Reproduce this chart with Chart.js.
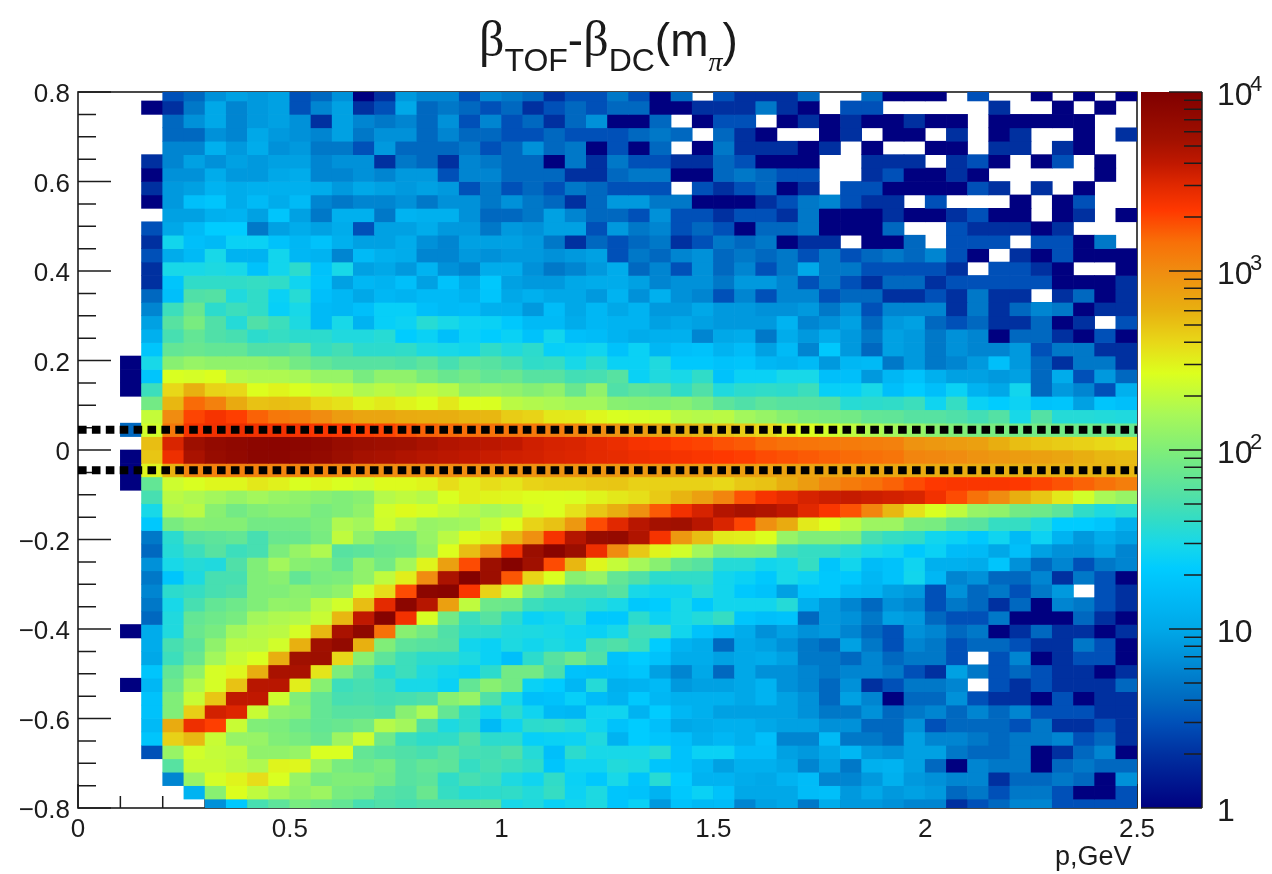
<!DOCTYPE html>
<html><head><meta charset="utf-8">
<script src="https://cdn.jsdelivr.net/npm/chart.js@4/dist/chart.umd.min.js"></script>
<style>
html,body{margin:0;padding:0;background:#fff;width:1272px;height:874px;overflow:hidden}
canvas{position:absolute;top:0}
#title{position:absolute;left:479px;top:9px;white-space:nowrap;font-family:"Liberation Sans",sans-serif;font-size:46px;color:#1a1a1a;line-height:60px}
#title .g{font-family:"Liberation Serif",serif;font-size:50px}
#title sub{font-size:32px;vertical-align:baseline;position:relative;top:15px}
#title sub i{font-family:"Liberation Serif",serif;font-size:28px}
</style></head><body>
<canvas id="main" width="1272" height="874" style="left:0"></canvas>
<canvas id="bar" width="131" height="874" style="left:1141px"></canvas>
<div id="title"><span class="g">β</span><sub>TOF</sub>-<span class="g">β</span><sub>DC</sub>(m<sub><i>π</i></sub>)</div>
<script>
const _=null;
// counts per cell, rows from the top of the plot (beta difference 0.81 downward), columns p = 0 .. 2.5
const r00=[_,_,_,_,3,4,7,9,8,9,3,4,7,1,2,8,6,6,3,6,5,4,2,3,3,5,3,1,4,_,3,2,2,2,4,_,_,4,1,1,1,_,3,_,_,1,_,1,_,1];
const r01=[_,_,_,1,2,5,10,6,8,9,3,6,9,2,3,10,4,5,4,3,4,2,3,4,3,4,4,1,1,2,2,2,5,2,1,_,3,3,_,_,_,_,_,2,_,_,1,_,1,_];
const r02=[_,_,_,_,4,7,10,6,8,9,7,2,9,6,5,6,4,7,3,6,3,4,2,4,7,1,1,4,_,1,3,3,_,1,2,1,2,1,1,2,1,1,_,1,1,1,1,1,_,_];
const r03=[_,_,_,_,4,4,7,6,10,8,7,6,9,5,7,7,4,6,4,4,3,3,4,3,3,3,4,5,4,_,4,2,1,_,_,1,2,_,1,1,_,2,_,1,2,_,_,1,_,2];
const r04=[_,_,_,_,6,6,12,8,11,7,8,5,5,3,8,4,4,4,5,3,4,7,4,5,1,3,1,4,_,1,5,2,2,2,1,2,_,1,_,_,1,1,_,2,2,_,2,1,_,_];
const r05=[_,_,_,2,6,9,7,9,8,9,9,6,7,7,2,5,4,2,6,5,4,4,1,5,2,5,3,3,2,2,4,3,1,1,1,_,_,2,2,2,_,2,3,1,_,1,3,_,1,_];
const r06=[_,_,_,1,7,7,11,8,8,10,11,6,6,7,6,8,8,3,6,6,4,4,4,2,2,4,5,5,1,1,4,5,4,3,3,_,_,2,3,1,1,2,1,_,_,_,_,_,1,_];
const r07=[_,_,_,2,8,9,13,11,12,12,12,11,8,10,9,8,9,8,3,5,3,4,3,5,4,3,3,3,_,3,2,3,4,1,2,_,3,3,1,1,1,1,3,2,_,2,_,1,_,_];
const r08=[_,_,_,1,8,17,19,11,15,11,15,6,5,6,6,7,5,7,7,5,7,5,4,2,4,8,8,5,5,1,1,1,2,3,5,6,3,2,2,_,3,_,_,_,1,_,1,3,_,_];
const r09=[_,_,_,_,9,9,12,13,9,19,9,5,12,12,5,13,12,12,7,4,4,5,9,6,4,4,3,7,3,3,2,3,3,2,5,1,1,1,2,1,1,2,3,1,1,_,1,2,_,1];
const r10=[_,_,_,3,10,15,22,22,5,9,11,9,11,3,9,9,11,8,8,5,8,7,9,9,3,8,5,6,3,4,3,1,4,4,5,1,1,1,4,_,_,3,2,2,2,1,2,_,_,_];
const r11=[_,_,_,2,28,17,15,25,25,18,14,18,12,9,9,11,7,6,9,9,9,8,5,2,4,3,4,5,2,3,5,4,5,1,2,2,_,1,1,4,_,3,3,3,_,3,3,1,5,_];
const r12=[_,_,_,3,11,15,30,13,13,28,14,13,6,15,12,11,6,6,8,7,8,8,7,8,9,3,5,4,6,7,4,5,4,5,3,5,3,4,5,4,6,3,1,_,2,1,3,1,1,1];
const r13=[_,_,_,2,30,30,32,30,18,28,38,18,30,9,10,8,13,7,6,11,11,7,5,6,8,11,4,6,3,7,4,6,3,5,10,5,5,3,3,3,3,2,_,3,3,2,1,_,_,1];
const r14=[_,_,_,2,19,40,40,40,42,40,27,19,9,14,13,17,9,18,11,20,9,8,8,10,11,11,9,6,7,7,5,8,8,6,3,5,3,2,4,4,2,3,3,3,3,3,1,1,1,2];
const r15=[_,_,_,4,17,55,58,33,40,25,36,17,14,10,14,13,15,15,13,19,10,12,10,10,8,13,7,12,7,6,3,6,3,6,6,3,4,4,2,2,3,2,5,2,2,_,2,4,1,2];
const r16=[_,_,_,6,45,75,38,45,40,24,30,15,14,17,24,24,17,15,16,12,12,8,16,10,14,10,13,8,8,10,8,8,7,7,8,5,7,3,6,6,6,2,5,2,4,6,5,1,2,2];
const r17=[_,_,_,9,60,90,55,35,55,45,32,15,30,13,24,26,36,30,26,25,20,15,15,11,14,13,13,9,10,9,8,8,8,13,6,7,9,4,8,9,4,3,4,2,2,4,1,2,_,3];
const r18=[_,_,_,12,50,70,55,50,38,42,38,38,33,33,36,22,25,17,25,22,25,18,28,17,16,13,11,12,12,6,10,11,5,11,8,11,8,5,9,8,5,7,6,1,4,4,2,1,3,1];
const r19=[_,_,_,19,70,75,70,70,55,55,65,42,48,38,38,40,32,30,28,40,33,38,24,25,27,18,25,14,17,18,13,16,9,15,6,20,8,4,9,8,5,7,6,6,8,3,5,5,2,2];
const r20=[_,_,1,30,110,130,120,120,120,110,85,70,60,60,60,55,65,50,65,60,50,40,42,30,38,25,25,33,20,20,18,19,14,13,15,8,14,15,5,8,5,6,8,17,8,4,2,5,5,2];
const r21=[_,_,1,19,260,250,270,180,170,170,160,130,130,90,120,120,90,75,85,70,75,60,60,48,50,60,25,33,30,40,18,25,25,30,30,17,17,8,14,18,12,9,9,8,9,4,11,3,8,4];
const r22=[_,_,1,45,400,600,420,400,270,300,260,230,210,170,190,170,200,180,120,130,120,105,120,75,120,55,65,60,40,55,33,38,40,38,45,24,24,30,17,22,17,25,13,10,28,4,8,6,3,12];
const r23=[_,_,_,85,560,1500,1150,660,500,520,500,400,360,300,330,300,270,340,270,260,190,175,165,150,150,110,105,100,110,90,65,55,65,60,60,58,36,38,40,45,27,42,25,22,26,18,19,9,19,17];
const r24=[_,_,_,210,1000,2000,2400,2100,1600,1300,1200,1000,800,700,700,650,630,620,580,560,450,420,340,330,290,260,250,240,190,180,190,150,130,110,95,90,85,70,68,60,60,55,48,58,30,58,35,35,34,33];
const r25=[_,_,4,240,1300,2400,2500,2600,2500,2500,2400,2300,2200,2100,2000,1800,1600,1500,1450,1400,1350,1300,1200,1100,1000,900,800,700,620,560,500,450,400,320,270,240,200,170,150,130,110,100,90,90,85,85,85,80,80,75];
const r26=[_,_,_,520,3200,5800,7000,7500,8000,8200,8000,7500,6500,6000,5700,5500,5000,4600,4400,4200,4000,3500,3300,3200,2900,2700,2400,2300,2100,2000,1800,1700,1500,1400,1350,1300,1250,1200,1150,900,850,800,750,620,520,480,450,430,400,370];
const r27=[_,_,1,480,2600,5000,6500,7200,8000,8000,7500,7000,6000,5200,5000,4700,4400,4200,4000,3700,3500,3400,3200,3100,2900,2800,2600,2500,2400,2300,2200,2100,1900,1800,1700,1600,1500,1450,1350,1100,1050,1000,900,850,800,750,700,620,560,540];
const r28=[_,_,1,300,600,1100,1150,1150,1150,1100,1100,1100,1050,1050,1000,1000,1000,1000,980,950,950,920,900,900,880,860,850,840,820,800,800,780,760,720,720,700,700,680,680,660,640,630,620,610,600,600,590,580,570,560];
const r29=[_,_,1,70,230,260,290,290,340,310,260,290,260,240,280,280,300,380,320,380,350,420,440,440,470,480,430,430,430,430,400,470,500,620,800,1050,1250,1400,1600,1900,2200,2300,2300,2300,2200,2000,1800,1600,1400,1200];
const r30=[_,_,_,50,190,170,150,130,150,130,120,110,100,110,180,200,180,260,320,300,290,270,265,260,300,340,370,460,580,750,1100,1800,2400,2800,3300,3600,3800,3600,3400,3200,2500,1900,1400,1000,620,480,340,240,160,130];
const r31=[_,_,_,30,170,190,110,85,100,110,110,90,100,120,240,280,250,210,180,155,170,240,265,360,480,620,950,1700,2500,3300,4500,5000,4700,4000,3000,2300,1800,1100,560,360,260,200,130,120,85,80,65,40,32,36];
const r32=[_,_,_,20,90,110,105,105,85,85,85,95,170,150,230,170,130,140,150,210,270,420,500,850,1900,3000,4300,5300,5500,4300,3200,2000,950,650,330,270,190,140,140,95,90,65,60,42,42,33,22,22,19,12];
const r33=[_,_,_,5,37,60,65,70,50,75,75,90,200,120,85,85,130,190,280,320,560,950,2400,4500,6500,6800,4700,2400,850,520,330,320,270,130,100,100,100,50,42,40,28,25,20,27,15,26,13,8,11,9];
const r34=[_,_,_,4,35,45,60,45,50,95,130,170,60,65,75,80,120,270,520,1000,2500,6000,8500,6000,2600,1000,470,300,240,150,95,100,95,48,42,42,35,30,27,20,25,16,15,10,17,9,7,7,9,6];
const r35=[_,_,_,7,30,35,33,55,100,150,110,100,70,120,85,150,300,750,1900,5800,9000,5500,1900,560,290,210,155,110,70,60,35,35,28,30,42,19,28,16,18,27,12,12,11,19,7,4,6,3,5,6];
const r36=[_,_,_,5,19,32,50,50,100,110,70,90,95,120,200,320,1000,4900,9200,5900,1750,410,260,110,130,70,55,38,40,40,28,25,20,30,26,20,20,14,18,28,14,6,7,4,4,6,2,5,3,1];
const r37=[_,_,_,6,38,42,50,55,100,100,115,105,120,240,380,1900,8000,8500,2300,420,220,100,70,50,50,60,30,27,27,35,28,20,18,9,19,20,14,13,9,8,3,7,4,5,3,5,8,_,3,2];
const r38=[_,_,_,5,30,50,70,80,100,125,120,190,240,520,2900,8000,4400,750,200,80,75,45,40,40,35,30,20,22,30,20,28,28,28,35,12,8,6,4,7,6,3,5,4,2,4,1,6,5,3,2];
const r39=[_,_,_,4,33,70,80,90,150,170,180,220,560,4000,9000,2500,255,85,45,60,38,25,28,35,20,20,38,26,30,34,42,19,17,18,4,8,7,5,9,8,4,3,3,5,1,1,1,4,2,1];
const r40=[_,_,1,11,33,75,90,150,180,190,250,560,5000,7500,1400,110,85,55,40,38,33,32,30,27,25,30,48,50,28,18,14,11,7,9,7,8,6,4,3,7,6,4,5,1,2,4,2,2,1,2];
const r41=[_,_,_,11,50,65,120,190,190,240,600,5500,7000,600,100,65,60,58,28,25,32,28,32,28,50,55,45,22,13,11,4,10,9,7,5,4,9,5,3,6,5,3,4,4,3,2,2,5,3,1];
const r42=[_,_,_,10,45,75,150,220,260,620,5500,5800,400,110,65,45,38,38,32,25,17,38,60,80,55,18,22,18,11,11,9,10,11,9,5,5,4,6,4,5,5,3,_,3,6,1,2,3,3,1];
const r43=[_,_,_,19,70,120,250,290,620,5000,5000,350,95,60,36,45,33,28,25,38,85,85,52,18,17,17,19,9,6,10,4,10,7,7,6,5,6,6,5,3,2,9,5,3,4,3,2,2,1,2];
const r44=[_,_,1,14,80,170,250,500,4300,4300,320,110,45,50,45,30,30,25,70,110,85,25,22,14,35,12,13,15,8,9,9,10,13,7,6,4,7,2,3,5,5,6,_,3,2,3,2,2,2,4];
const r45=[_,_,_,18,100,220,480,4000,4000,230,100,70,50,52,48,50,55,110,130,55,30,17,18,24,16,13,20,14,12,12,12,10,13,9,7,4,9,6,1,4,4,7,3,2,2,1,3,1,2,2];
const r46=[_,_,_,18,100,440,3400,3100,220,120,110,70,60,60,55,110,165,70,40,27,38,27,15,14,27,27,13,22,14,12,9,9,9,9,7,5,5,7,4,5,6,4,6,4,6,3,3,3,2,2];
const r47=[_,_,_,15,650,2600,2100,220,100,95,80,70,75,85,180,150,55,32,38,15,26,38,40,35,27,18,22,17,10,11,12,12,10,9,9,7,7,4,4,7,3,4,4,4,3,5,2,2,3,2];
const r48=[_,_,_,19,430,550,220,130,130,100,90,75,140,230,80,45,39,40,55,38,38,24,25,26,33,13,22,19,17,12,14,12,17,6,6,15,5,5,4,9,6,6,5,4,5,5,6,3,4,2];
const r49=[_,_,_,3,130,240,210,200,120,120,130,260,260,70,60,55,50,62,50,48,55,35,17,38,30,30,30,36,18,25,25,16,16,9,8,10,14,8,7,9,9,5,4,4,5,1,2,4,6,1];
const r50=[_,_,_,_,60,220,220,190,170,300,290,140,90,80,90,60,70,65,42,50,45,40,19,27,27,34,32,19,18,14,9,12,12,10,6,9,5,12,13,9,4,1,6,5,5,1,4,5,4,4];
const r51=[_,_,_,_,6,130,250,300,380,260,130,90,100,100,85,60,65,40,50,45,32,27,40,25,20,30,19,36,22,13,13,11,10,13,16,6,6,8,12,8,7,6,6,2,4,4,5,4,1,7];
const r52=[_,_,_,_,_,13,110,270,200,150,120,140,90,85,60,55,75,42,36,38,40,34,42,26,32,19,18,13,20,25,18,10,10,10,16,17,8,10,8,9,8,4,5,3,5,5,3,1,1,3];
const r53=[_,_,_,_,_,_,7,20,50,65,90,80,70,50,55,50,55,55,55,60,30,33,25,28,32,19,25,8,18,15,16,6,9,10,5,11,8,8,7,6,6,2,3,4,6,6,3,3,3,3];
const rows=[r00,r01,r02,r03,r04,r05,r06,r07,r08,r09,r10,r11,r12,r13,r14,r15,r16,r17,r18,r19,r20,r21,r22,r23,r24,r25,r26,r27,r28,r29,r30,r31,r32,r33,r34,r35,r36,r37,r38,r39,r40,r41,r42,r43,r44,r45,r46,r47,r48,r49,r50,r51,r52,r53];

const pBinWidth=0.05, betaBinWidth=0.03, betaTop=0.81;
const xTickValues=[0,0.5,1,1.5,2,2.5];
const yTickValues=[-0.8,-0.6,-0.4,-0.2,0,0.2,0.4,0.6,0.8];
const cutLevels=[0.045,-0.045];
const colorTickValues=[1,10,100,1000,10000];
const colorTickLabels=['1','10','10','10','10'];
const colorTickExponents=['','','2','3','4'];
const paletteStops=[[0,'#000080'],[.075,'#0030a0'],[.119,'#0050b8'],[.15,'#0068c0'],[.175,'#0078c8'],[.21,'#0090d8'],[.25,'#00a8e8'],[.30,'#00bcf8'],[.335,'#00ccff'],[.37,'#18d8e8'],[.40,'#30dcc8'],[.435,'#50e0a8'],[.5,'#80ee78'],[.55,'#a8f858'],[.607,'#dcff1e'],[.65,'#e8d818'],[.695,'#e8b010'],[.75,'#f08c10'],[.79,'#f87008'],[.835,'#ff3800'],[.87,'#e02800'],[.9,'#c01800'],[.935,'#a01000'],[1,'#800000']];

const hex=h=>[1,3,5].map(i=>parseInt(h.substr(i,2),16));
function colorOf(v){
  const f=Math.min(1,Math.max(0,Math.log10(v)/4));
  for(let i=1;i<paletteStops.length;i++){
    if(f<=paletteStops[i][0]){
      const [f0,c0]=paletteStops[i-1],[f1,c1]=paletteStops[i];
      const t=(f-f0)/(f1-f0),a=hex(c0),b=hex(c1);
      return `rgb(${a.map((x,k)=>Math.round(x+(b[k]-x)*t)).join(',')})`;
    }
  }
  return paletteStops[paletteStops.length-1][1];
}
const font="'Liberation Sans',Arial,sans-serif", ink='#1c1c1c';
Chart.defaults.font.family=font;

const rowSets=rows.map((row,i)=>({
  type:'bar',order:1,grouped:false,barPercentage:1,categoryPercentage:1,borderWidth:0,
  backgroundColor:c=>c.raw?colorOf(c.raw.v):'transparent',
  data:row.map((v,j)=>v===null?null:{x:(j+.5)*pBinWidth,y:[betaTop-betaBinWidth*(i+1),betaTop-betaBinWidth*i],v}).filter(Boolean)
}));
const cutSets=cutLevels.map(y=>({
  type:'line',order:0,borderColor:'#000',borderWidth:8,borderDash:[8.6,5.3],borderCapStyle:'butt',pointRadius:0,
  data:[{x:0,y},{x:2.5,y}]
}));

const framePlugin={id:'frame',beforeDatasetsDraw(ch){
  const {ctx,chartArea:a,scales:{x,y}}=ch;
  ctx.save();ctx.strokeStyle=ink;ctx.lineWidth=1.6;
  ctx.strokeRect(a.left,a.top,a.right-a.left,a.bottom-a.top);
  ctx.lineWidth=1.5;ctx.beginPath();
  for(let k=0;k<=32;k++){const yy=y.getPixelForValue(-0.8+k*0.05),l=k%4===0?33:18;ctx.moveTo(a.left,yy);ctx.lineTo(a.left+l,yy);}
  for(let k=0;k<=25;k++){const xx=x.getPixelForValue(k*0.1),l=k%5===0?24:12;ctx.moveTo(xx,a.bottom);ctx.lineTo(xx,a.bottom-l);}
  ctx.stroke();ctx.restore();
}};
new Chart(document.getElementById('main'),{
  type:'bar',
  data:{datasets:[...cutSets,...rowSets]},
  options:{responsive:false,animation:false,devicePixelRatio:1,
    layout:{padding:{top:92,right:135,left:0,bottom:0}},
    plugins:{legend:{display:false},tooltip:{enabled:false}},
    scales:{
      x:{type:'linear',min:0,max:2.5,offset:false,grid:{display:false,drawTicks:false},border:{display:false},
        afterBuildTicks:s=>{s.ticks=xTickValues.map(value=>({value}))},
        afterFit:s=>{s.height=66},
        ticks:{color:ink,font:{size:26},padding:6,maxRotation:0,autoSkip:false,callback:v=>String(v)},
        title:{display:true,text:'p,GeV\u2009',align:'end',color:ink,font:{size:27},padding:{top:0,bottom:0}}},
      y:{type:'linear',min:-0.8,max:0.8,grid:{display:false,drawTicks:false},border:{display:false},
        afterBuildTicks:s=>{s.ticks=yTickValues.map(value=>({value}))},
        afterFit:s=>{s.width=78},
        ticks:{color:ink,font:{size:26},padding:8,labelOffset:3,autoSkip:false,callback:v=>Math.abs(v)<1e-9?'0':(v<0?'−':'')+Math.abs(v).toFixed(1)}}
    }},
  plugins:[framePlugin]
});

const barTickPlugin={id:'barTicks',afterDatasetsDraw(ch){
  const {ctx,chartArea:a,scales:{y}}=ch;
  ctx.save();ctx.strokeStyle=ink;ctx.lineWidth=1.5;ctx.beginPath();
  ctx.moveTo(a.right,a.top);ctx.lineTo(a.right,a.bottom);ctx.moveTo(a.left,a.bottom);ctx.lineTo(a.right,a.bottom);
  for(let d=1;d<=10000;d*=10){
    for(let m=1;m<=(d===10000?1:9);m++){
      const yy=y.getPixelForValue(d*m),l=m===1?33:18;
      ctx.moveTo(a.right,yy);ctx.lineTo(a.right-l,yy);
    }
  }
  ctx.stroke();
  ctx.fillStyle=ink;ctx.font="22px "+font;ctx.textAlign='left';ctx.textBaseline='middle';
  colorTickValues.forEach((v,i)=>{if(colorTickExponents[i])ctx.fillText(colorTickExponents[i],a.right+48,y.getPixelForValue(v)-7);});
  ctx.restore();
}};
new Chart(document.getElementById('bar'),{
  type:'bar',
  data:{labels:['z'],datasets:[{
    data:[[1,10000]],barPercentage:1,categoryPercentage:1,borderWidth:0,inflateAmount:0,
    backgroundColor:c=>{
      const a=c.chart.chartArea;if(!a)return '#000';
      const g=c.chart.ctx.createLinearGradient(0,a.bottom,0,a.top);
      paletteStops.forEach(([f,col])=>g.addColorStop(f,col));return g;
    }}]},
  options:{responsive:false,animation:false,devicePixelRatio:1,
    layout:{padding:{top:92,bottom:66,left:0,right:0}},
    plugins:{legend:{display:false},tooltip:{enabled:false}},
    scales:{
      x:{display:false,offset:true},
      y:{type:'logarithmic',position:'right',min:1,max:10000,grid:{display:false,drawTicks:false},border:{display:false},
        afterBuildTicks:s=>{s.ticks=colorTickValues.map(value=>({value}))},
        afterFit:s=>{s.width=70},
        ticks:{color:ink,font:{size:32},padding:15,labelOffset:4,autoSkip:false,callback:v=>colorTickLabels[colorTickValues.indexOf(v)]}}
    }},
  plugins:[barTickPlugin]
});
</script>
</body></html>
